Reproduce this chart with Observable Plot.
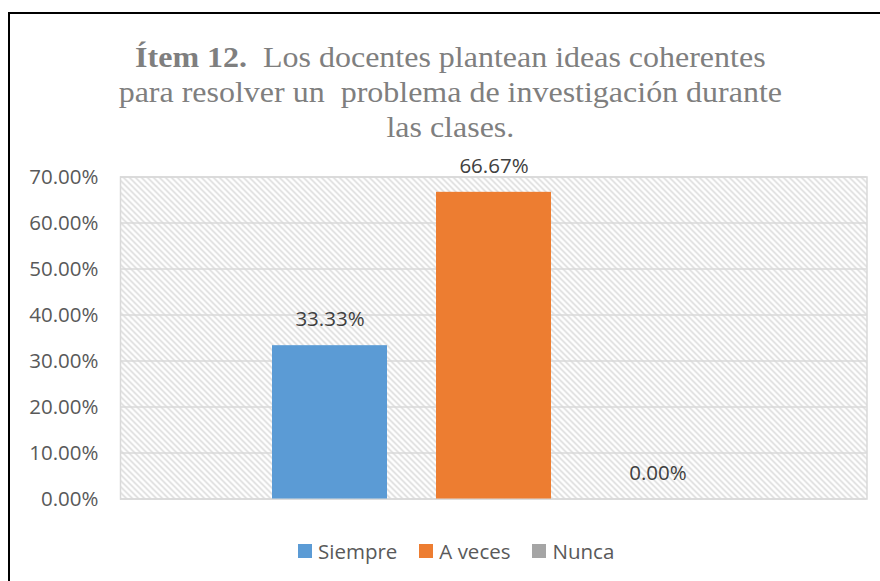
<!DOCTYPE html>
<html>
<head>
<meta charset="utf-8">
<script src="https://cdn.jsdelivr.net/npm/d3@7"></script>
<script src="https://cdn.jsdelivr.net/npm/@observablehq/plot@0.6"></script>
<style>
  html, body { margin: 0; padding: 0; background: #fff; }
  body { width: 880px; height: 581px; overflow: hidden; position: relative; font-family: "Open Sans", sans-serif; }
  #frame { position: absolute; left: 8px; top: 12px; width: 920px; height: 620px; border-left: 2px solid #000; border-top: 2px solid #000; box-sizing: border-box; }
  #title { position: absolute; left: 10px; width: 882px; top: 39px; text-align: center; font-family: "Liberation Serif", "Times New Roman", serif; font-size: 30px; line-height: 35px; color: #7f7f7f; white-space: nowrap; transform: scaleX(1.066); transform-origin: 451px 0; }
  #title b { font-weight: bold; }
  #chart { position: absolute; left: 0; top: 150px; }
  #legend { position: absolute; left: 298px; top: 537px; display: flex; align-items: center; font-size: 20.5px; color: #595959; white-space: nowrap; }
  .item { display: flex; align-items: center; margin-right: 22px; }
  .sw { width: 14px; height: 14px; margin-right: 6px; }
</style>
</head>
<body>
<div id="frame"></div>
<div id="title"><b>Ítem 12.</b>&nbsp; Los docentes plantean ideas coherentes<br>para resolver un&nbsp; problema de investigación durante<br>las clases.</div>
<div id="chart"></div>
<div id="legend"></div>
<script>
const categories = ["Siempre", "A veces", "Nunca"];
const values = [0.3333, 0.6667, 0.0];
const colors = ["#5b9bd5", "#ed7d31", "#a5a5a5"];
const yTicks = [0, 0.1, 0.2, 0.3, 0.4, 0.5, 0.6, 0.7];

const data = categories.map((c, i) => ({cat: c, value: values[i]}));
const pct = d3.format(".2%");

const plot = Plot.plot({
  width: 880,
  height: 370,
  marginLeft: 120,
  marginRight: 13.5,
  marginTop: 26.5,
  marginBottom: 21.5,
  style: {fontFamily: "Open Sans", fontSize: "20.5px", color: "#595959", background: "transparent", overflow: "visible"},
  x: {type: "band", domain: categories, paddingInner: 0.3, paddingOuter: 0.92, axis: null},
  y: {domain: [0, 0.7], axis: null},
  color: {domain: categories, range: colors},
  marks: [
    Plot.frame({fill: "url(#hatch)", stroke: "#d9d9d9", strokeWidth: 1.5}),
    Plot.gridY(yTicks, {stroke: "#d9d9d9", strokeOpacity: 1, strokeWidth: 1.5}),
    Plot.axisY(yTicks, {tickSize: 0, tickPadding: 22, tickFormat: pct, label: null, fill: "#595959", fontSize: 20.5}),
    Plot.barY(data, {x: "cat", y: "value", fill: "cat"}),
    Plot.text(data, {x: "cat", y: "value", text: d => pct(d.value), dy: -26, fill: "#404040", fontSize: 20.5})
  ]
});

// hatch pattern definition
const ns = "http://www.w3.org/2000/svg";
const defs = document.createElementNS(ns, "defs");
defs.innerHTML = '<pattern id="hatch" patternUnits="userSpaceOnUse" width="6" height="6">' +
  '<rect width="6" height="6" fill="#ffffff"/>' +
  '<path d="M-1,-1 L7,7 M-1,5 L1,7 M5,-1 L7,1" stroke="#d6d6d6" stroke-width="1.4"/></pattern>';
plot.insertBefore(defs, plot.firstChild);
document.getElementById("chart").appendChild(plot);

const legend = document.getElementById("legend");
categories.forEach((c, i) => {
  const it = document.createElement("div");
  it.className = "item";
  const sw = document.createElement("span");
  sw.className = "sw";
  sw.style.background = colors[i];
  const t = document.createElement("span");
  t.textContent = c;
  it.appendChild(sw);
  it.appendChild(t);
  legend.appendChild(it);
});
</script>
</body>
</html>
